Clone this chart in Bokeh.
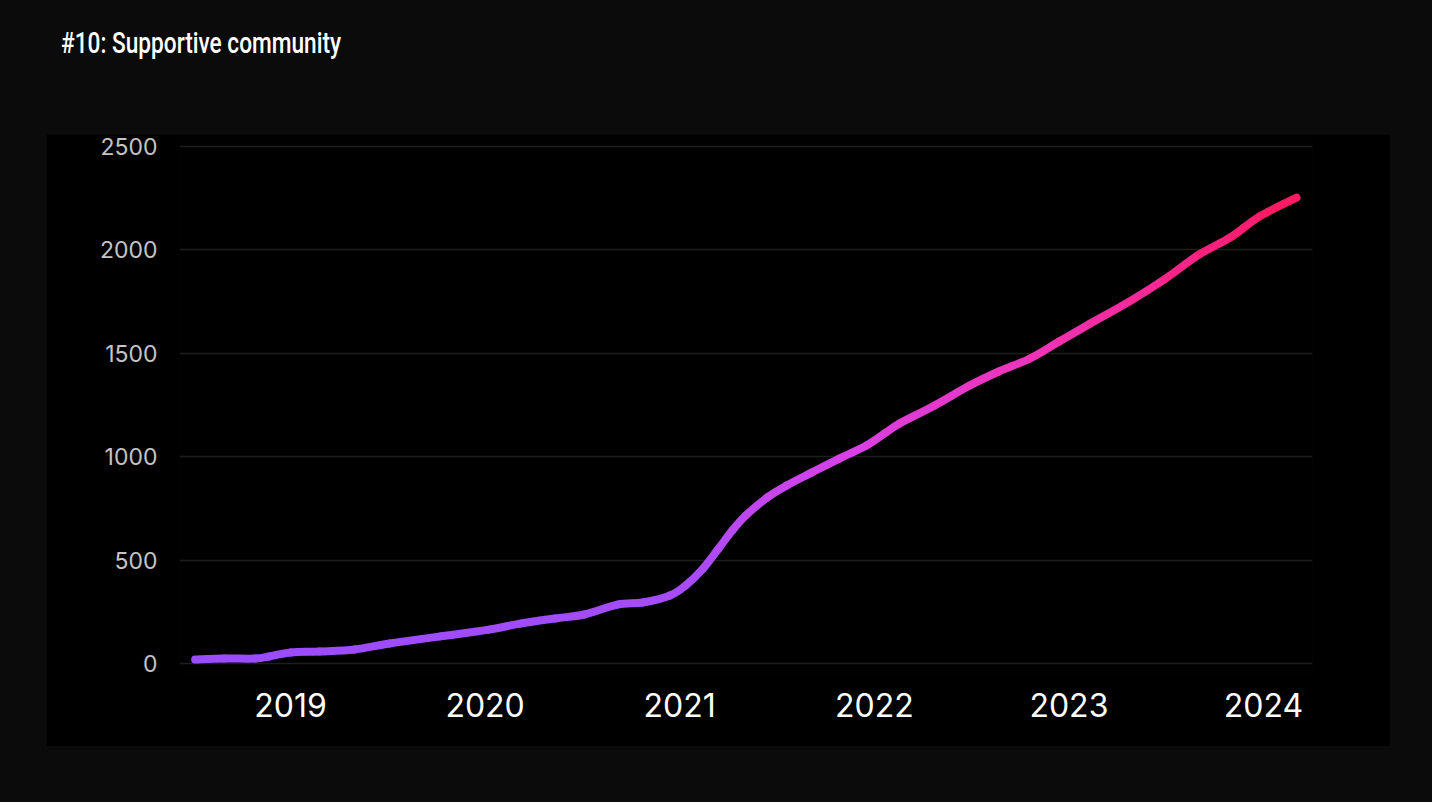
import numpy as np
from bokeh.plotting import figure
from bokeh.models import FixedTicker, Div, Range1d
from bokeh.layouts import column
from bokeh.embed import file_html
from bokeh.resources import INLINE

# ---- data ----
years = [2018.51, 2018.66, 2018.82, 2018.89, 2019.00, 2019.15, 2019.33, 2019.51,
         2019.77, 2020.02, 2020.18, 2020.36, 2020.51, 2020.68, 2020.81, 2020.95,
         2021.03, 2021.12, 2021.20, 2021.27, 2021.34, 2021.45, 2021.55, 2021.68,
         2021.82, 2021.96, 2022.06, 2022.13, 2022.31, 2022.49, 2022.64, 2022.80,
         2022.95, 2023.11, 2023.31, 2023.49, 2023.67, 2023.83, 2023.98, 2024.17]
members = [19, 24, 24, 34, 53, 58, 68, 97,
           131, 164, 193, 218, 237, 285, 295, 329,
           377, 459, 556, 643, 716, 803, 861, 924,
           991, 1054, 1117, 1161, 1248, 1344, 1412, 1475,
           1557, 1644, 1750, 1857, 1978, 2060, 2162, 2253]
y_ticks = [0, 500, 1000, 1500, 2000, 2500]
x_ticks = [2019, 2020, 2021, 2022, 2023, 2024]
title_text = "#10: Supportive community"

# ---- gradient colour (by value, purple -> pink) ----
stop_vals = [0, 500, 1000, 1550, 2250]
stop_cols = [(155, 77, 255), (172, 76, 246), (214, 66, 232), (242, 50, 180), (255, 26, 98)]

def grad(v):
    r = np.interp(v, stop_vals, [c[0] for c in stop_cols])
    g = np.interp(v, stop_vals, [c[1] for c in stop_cols])
    b = np.interp(v, stop_vals, [c[2] for c in stop_cols])
    return "#%02x%02x%02x" % (int(r), int(g), int(b))

# smooth drawing: Catmull-Rom control points for a bezier through the data points
xs = np.array(years)
ys = np.array(members, dtype=float)
n = len(xs)
xp = np.concatenate([[xs[0]], xs, [xs[-1]]])
yp = np.concatenate([[ys[0]], ys, [ys[-1]]])
bx0, by0, bx1, by1, bcx0, bcy0, bcx1, bcy1, bcol = [], [], [], [], [], [], [], [], []
for i in range(n - 1):
    P0x, P1x, P2x, P3x = xp[i], xp[i + 1], xp[i + 2], xp[i + 3]
    P0y, P1y, P2y, P3y = yp[i], yp[i + 1], yp[i + 2], yp[i + 3]
    bx0.append(P1x); by0.append(P1y); bx1.append(P2x); by1.append(P2y)
    bcx0.append(P1x + (P2x - P0x) / 6); bcy0.append(P1y + (P2y - P0y) / 6)
    bcx1.append(P2x - (P3x - P1x) / 6); bcy1.append(P2y - (P3y - P1y) / 6)
    bcol.append(grad((P1y + P2y) / 2))

p = figure(width=1344, height=612, output_backend="svg", toolbar_location=None,
           x_range=Range1d(2018.4296, 2024.2518), y_range=Range1d(-43.5, 2529),
           min_border_left=133, min_border_right=78, min_border_top=6, min_border_bottom=74)
p.margin = (0, 0, 0, 46)
p.background_fill_color = "#000000"
p.border_fill_color = "#000000"
p.outline_line_color = None

p.bezier(x0=bx0, y0=by0, x1=bx1, y1=by1, cx0=bcx0, cy0=bcy0, cx1=bcx1, cy1=bcy1,
         line_color=bcol, line_width=8, line_cap="round")

p.xgrid.grid_line_color = None
p.ygrid.grid_line_color = "#1e1e1e"
p.ygrid.grid_line_width = 1.5
p.ygrid.ticker = FixedTicker(ticks=y_ticks)

p.yaxis.ticker = FixedTicker(ticks=y_ticks)
p.xaxis.ticker = FixedTicker(ticks=x_ticks)
for ax in (p.xaxis[0], p.yaxis[0]):
    ax.axis_line_color = None
    ax.major_tick_line_color = None
    ax.minor_tick_line_color = None
    ax.major_label_text_font = "Inter"
p.yaxis.major_label_text_font_size = "23px"
p.yaxis.major_label_text_color = "#c4c4c4"
p.yaxis.major_label_standoff = 16
p.xaxis.major_label_text_font_size = "32px"
p.xaxis.major_label_text_color = "#ffffff"
p.xaxis.major_label_standoff = 14

div = Div(text=('<div style="padding:23px 0 0 56px; white-space:nowrap;">'
                '<span style="display:inline-block; transform:scaleX(0.755); transform-origin:0 0; '
                'font-family:Roboto, sans-serif; font-weight:500; font-size:30px; line-height:1; '
                'color:#ffffff;">' + title_text + '</span></div>'),
          width=1432, height=124)

layout = column(div, p, width=1432, height=802, styles={"background-color": "#0b0b0b"})

open("out.html", "w").write(file_html(layout, INLINE))
